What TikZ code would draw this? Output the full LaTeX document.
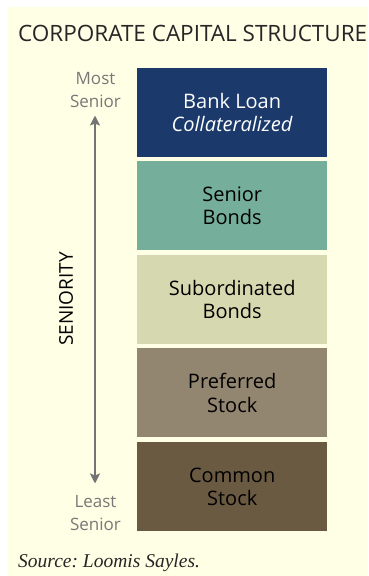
\documentclass[tikz,border=0pt]{standalone}
\usepackage{fontspec}
\setmainfont{Open Sans}
\newfontfamily\srcfont{Liberation Serif}
\usetikzlibrary{arrows.meta}
\frenchspacing
\definecolor{bg}{HTML}{FFFFE6}
\definecolor{cbank}{HTML}{1B3A6B}
\definecolor{csen}{HTML}{76AE9C}
\definecolor{csub}{HTML}{D6D9B0}
\definecolor{cpref}{HTML}{938670}
\definecolor{ccom}{HTML}{6B5A42}
\definecolor{garrow}{HTML}{747474}
\definecolor{gtext}{HTML}{787878}
\tikzset{
  tier/.style={fill=#1, minimum width=190pt, minimum height=89pt, inner sep=0pt,
    align=center, font=\fontsize{20}{23.5}\selectfont, text=black, anchor=north west},
  side/.style={align=center, text=gtext, inner sep=0pt, font=\fontsize{17}{23}\selectfont},
}
\begin{document}
\begin{tikzpicture}[x=1pt,y=-1pt]
\useasboundingbox (0,0) rectangle (368,576);
\fill[white] (0,0) rectangle (368,576);
\fill[bg] (8,7) rectangle (368,576);
\node[anchor=base west, inner sep=0pt, text=black!85, font=\fontsize{22.5}{27}\selectfont] (title) at (18,41) {CORPORATE CAPITAL STRUCTURE};
\node[tier=cbank, text=white] (bank) at (137,68) {Bank Loan\\\textit{Collateralized}};
\node[tier=csen] (senior) at (137,161) {Senior\\Bonds};
\node[tier=csub] (sub) at (137,255) {Subordinated\\Bonds};
\node[tier=cpref] (pref) at (137,348) {Preferred\\Stock};
\node[tier=ccom] (common) at (137,442) {Common\\Stock};
\node[side, anchor=base] (most) at (95.5,107) {Most\\Senior};
\node[side, anchor=base] (least) at (95.5,530) {Least\\Senior};
\coordinate (atop) at (95,115.5);
\coordinate (abot) at (95,483.5);
\draw[garrow, line width=2.5pt, {Stealth[length=10pt,width=10pt,inset=2pt]}-{Stealth[length=10pt,width=10pt,inset=2pt]}] (atop) -- (abot);
\node[rotate=90, font=\fontsize{19}{24}\selectfont, text=black] (seniority) at (66,299) {SENIORITY};
\node[anchor=base west, inner sep=0pt, font=\srcfont\itshape\fontsize{19.5}{22}\selectfont, text=black!85] (source) at (18,567) {Source: Loomis Sayles.};
\end{tikzpicture}
\end{document}
